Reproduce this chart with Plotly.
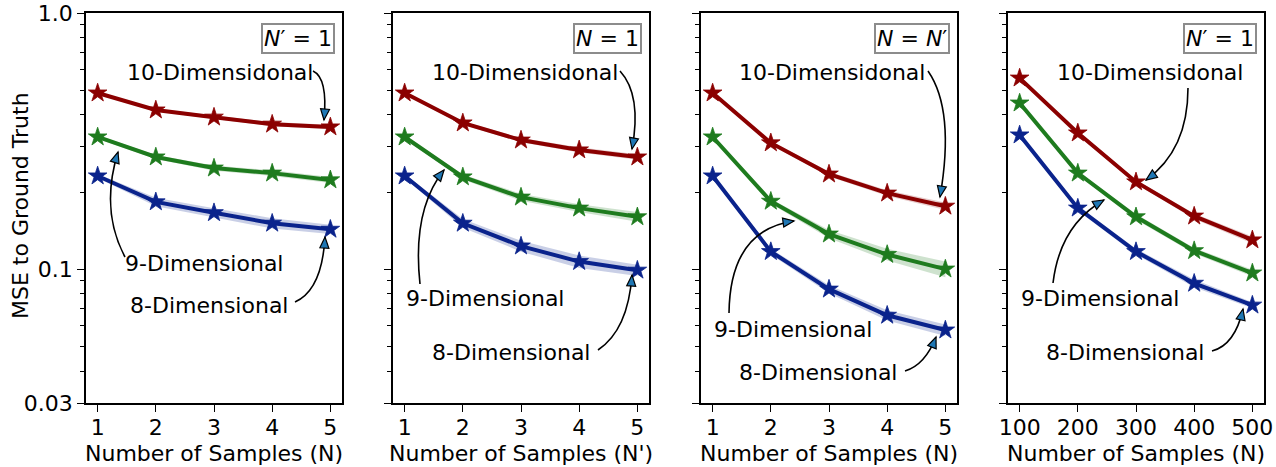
import math
import plotly.graph_objects as go

# ---------------------------------------------------------------- data
steps = [1, 2, 3, 4, 5]
samples = [100, 200, 300, 400, 500]

# panel 1: N' = 1, varying N
p1_d10 = [0.487, 0.418, 0.392, 0.368, 0.359]
p1_d9 = [0.328, 0.274, 0.248, 0.237, 0.223]
p1_d8 = [0.231, 0.183, 0.166, 0.151, 0.143]
p1_s10 = [0.006, 0.006, 0.006, 0.007, 0.007]
p1_s9 = [0.005, 0.005, 0.006, 0.006, 0.006]
p1_s8 = [0.004, 0.007, 0.007, 0.007, 0.006]

# panel 2: N = 1, varying N'
p2_d10 = [0.487, 0.372, 0.319, 0.292, 0.274]
p2_d9 = [0.328, 0.229, 0.191, 0.173, 0.160]
p2_d8 = [0.231, 0.151, 0.123, 0.107, 0.099]
p2_s10 = [0.006, 0.006, 0.006, 0.007, 0.007]
p2_s9 = [0.005, 0.005, 0.006, 0.006, 0.007]
p2_s8 = [0.004, 0.006, 0.006, 0.006, 0.005]

# panel 3: N = N'
p3_d10 = [0.487, 0.311, 0.235, 0.198, 0.176]
p3_d9 = [0.328, 0.184, 0.137, 0.114, 0.100]
p3_d8 = [0.231, 0.117, 0.0835, 0.066, 0.0578]
p3_s10 = [0.006, 0.005, 0.005, 0.005, 0.006]
p3_s9 = [0.005, 0.004, 0.005, 0.006, 0.007]
p3_s8 = [0.004, 0.003, 0.003, 0.003, 0.003]

# panel 4: N' = 1, large N
p4_d10 = [0.557, 0.340, 0.219, 0.161, 0.130]
p4_d9 = [0.445, 0.237, 0.160, 0.118, 0.0965]
p4_d8 = [0.334, 0.173, 0.117, 0.088, 0.0723]
p4_s10 = [0.006, 0.005, 0.004, 0.004, 0.004]
p4_s9 = [0.005, 0.004, 0.004, 0.003, 0.003]
p4_s8 = [0.004, 0.004, 0.003, 0.003, 0.002]

panel_tags = ["<i>N</i>′ = 1", "<i>N</i> = 1", "<i>N</i> = <i>N</i>′", "<i>N</i>′ = 1"]
x_titles = ["Number of Samples (N)", "Number of Samples (N')",
            "Number of Samples (N)", "Number of Samples (N)"]
y_title = "MSE to Ground Truth"
series_names = ["10-Dimensidonal", "9-Dimensional", "8-Dimensional"]

y_tick_vals = [0.03, 0.1, 1.0]
y_tick_text = ["0.03", "0.1", "1.0"]
y_minor_vals = [0.04, 0.05, 0.06, 0.07, 0.08, 0.09,
                0.2, 0.3, 0.4, 0.5, 0.6, 0.7, 0.8, 0.9]

# ---------------------------------------------------------------- style
W, H = 1276, 467
FONT = "DejaVu Sans"
FS = 22
COLORS = ["#8b0000", "#1e7b1e", "#0a238c"]
BANDS = ["rgba(139,0,0,0.2)", "rgba(30,123,30,0.22)", "rgba(10,35,140,0.22)"]
HEAD_FILL = "#1f77b4"

panel_left = [86, 393, 701, 1008]
panel_w = 256
plot_top, plot_bot = 13, 403


def px(x):
    return x / W


def py(y):
    return 1 - y / H


panels = [
    (steps, [p1_d10, p1_d9, p1_d8], [p1_s10, p1_s9, p1_s8], [0.8, 5.2]),
    (steps, [p2_d10, p2_d9, p2_d8], [p2_s10, p2_s9, p2_s8], [0.8, 5.2]),
    (steps, [p3_d10, p3_d9, p3_d8], [p3_s10, p3_s9, p3_s8], [0.8, 5.2]),
    (samples, [p4_d10, p4_d9, p4_d8], [p4_s10, p4_s9, p4_s8], [80, 520]),
]

# label centres and curved arrows (start, control, tip) in page pixels
labels = [
    [(220, 72), (204, 263), (209, 305)],
    [(525, 72), (485, 298), (511, 352)],
    [(832, 72), (793, 329), (818, 372)],
    [(1150, 72), (1100, 298), (1125, 352)],
]
arrows = [
    [((313, 71), (328, 78), (324, 120)),
     ((125, 257), (100, 210), (118, 152)),
     ((295, 302), (322, 290), (325, 237))],
    [((620, 71), (642, 95), (632, 149)),
     ((420, 284), (412, 210), (444, 170)),
     ((598, 350), (628, 330), (632, 275))],
    [((928, 71), (955, 110), (940, 197)),
     ((729, 313), (730, 230), (794, 221)),
     ((905, 371), (925, 365), (936, 337))],
    [((1188, 88), (1188, 150), (1146, 180)),
     ((1053, 283), (1060, 225), (1104, 200)),
     ((1212, 351), (1235, 345), (1243, 309))],
]

fig = go.Figure()
layout = dict(
    width=W, height=H,
    margin=dict(l=0, r=0, t=0, b=0, autoexpand=False),
    paper_bgcolor="white", plot_bgcolor="white",
    showlegend=False,
    font=dict(family=FONT, size=FS, color="black"),
)
annotations = []
shapes = []

for i, (xs, ys, ss, xr) in enumerate(panels):
    n = "" if i == 0 else str(i + 1)
    xa, ya = "x" + n, "y" + n
    for k in range(3):
        upper = [v + s for v, s in zip(ys[k], ss[k])]
        lower = [v - s for v, s in zip(ys[k], ss[k])]
        fig.add_trace(go.Scatter(
            x=list(xs) + list(xs)[::-1], y=upper + lower[::-1],
            fill="toself", fillcolor=BANDS[k], line=dict(width=0),
            mode="lines", hoverinfo="skip", xaxis=xa, yaxis=ya))
    for k in range(3):
        fig.add_trace(go.Scatter(
            x=xs, y=ys[k], mode="lines+markers", name=series_names[k],
            line=dict(color=COLORS[k], width=4),
            marker=dict(symbol="star", size=14, color=COLORS[k],
                        line=dict(width=0.8, color=COLORS[k])),
            xaxis=xa, yaxis=ya))

    left = panel_left[i]
    dom_x = [px(left), px(left + panel_w)]
    dom_y = [py(plot_bot), py(plot_top)]
    axis_common = dict(showline=True, linecolor="black", linewidth=1.6,
                       mirror=True, showgrid=False, zeroline=False,
                       automargin=False,
                       ticks="outside", ticklen=7, tickwidth=1.4,
                       tickcolor="black",
                       tickfont=dict(family=FONT, size=FS, color="black"))
    layout["xaxis" + n] = dict(
        domain=dom_x, range=xr, anchor=ya, ticklabelstandoff=-3,
        tickmode="array", tickvals=list(xs), **axis_common)
    layout["yaxis" + n] = dict(
        domain=dom_y, type="log",
        range=[math.log10(0.03), 0], anchor=xa,
        tickmode="array", tickvals=y_tick_vals, ticktext=y_tick_text,
        showticklabels=(i == 0),
        minor=dict(tickmode="array", tickvals=y_minor_vals, ticks="outside",
                   ticklen=4.5, tickwidth=1.2, tickcolor="black"),
        **axis_common)

    # boxed condition tag in the top-right corner
    annotations.append(dict(
        text=panel_tags[i], xref=xa + " domain", yref=ya + " domain",
        x=1 - 7 / panel_w, y=1 - 10 / (plot_bot - plot_top),
        xanchor="right", yanchor="top", showarrow=False,
        font=dict(family=FONT, size=FS, color="black"),
        bgcolor="white", bordercolor="rgba(128,128,128,0.9)",
        borderwidth=2, borderpad=1))

    # x-axis title
    annotations.append(dict(
        text=x_titles[i], xref="paper", yref="paper",
        x=px(left + panel_w / 2), y=py(453), xanchor="center",
        yanchor="middle", showarrow=False,
        font=dict(family=FONT, size=FS, color="black")))

    # series labels with curved arrows
    for k in range(3):
        cx, cy = labels[i][k]
        annotations.append(dict(
            text=series_names[k], xref="paper", yref="paper",
            x=px(cx), y=py(cy), xanchor="center", yanchor="middle",
            showarrow=False, font=dict(family=FONT, size=FS, color="black")))
        (sx, sy), (qx, qy), (tx, ty) = arrows[i][k]
        shapes.append(dict(
            type="path", xref="paper", yref="paper",
            path=f"M {px(sx):.5f},{py(sy):.5f} Q {px(qx):.5f},{py(qy):.5f} "
                 f"{px(tx):.5f},{py(ty):.5f}",
            line=dict(color="black", width=1.6)))
        # arrowhead aligned with the curve's end tangent
        dx, dy = tx - qx, ty - qy
        d = math.hypot(dx, dy)
        ux, uy = dx / d, dy / d
        nx, ny = -uy, ux
        L, Wd = 11, 4.5
        bx, by = tx - L * ux, ty - L * uy
        p1 = (bx + Wd * nx, by + Wd * ny)
        p2 = (bx - Wd * nx, by - Wd * ny)
        shapes.append(dict(
            type="path", xref="paper", yref="paper",
            path=f"M {px(tx):.5f},{py(ty):.5f} L {px(p1[0]):.5f},{py(p1[1]):.5f} "
                 f"L {px(p2[0]):.5f},{py(p2[1]):.5f} Z",
            fillcolor=HEAD_FILL, line=dict(color="black", width=1.2)))

# y-axis title
annotations.append(dict(
    text=y_title, xref="paper", yref="paper", x=px(20), y=py(206),
    xanchor="center", yanchor="middle", textangle=-90, showarrow=False,
    font=dict(family=FONT, size=FS, color="black")))

layout["annotations"] = annotations
layout["shapes"] = shapes
fig.update_layout(**layout)
fig.write_html("out.html")
